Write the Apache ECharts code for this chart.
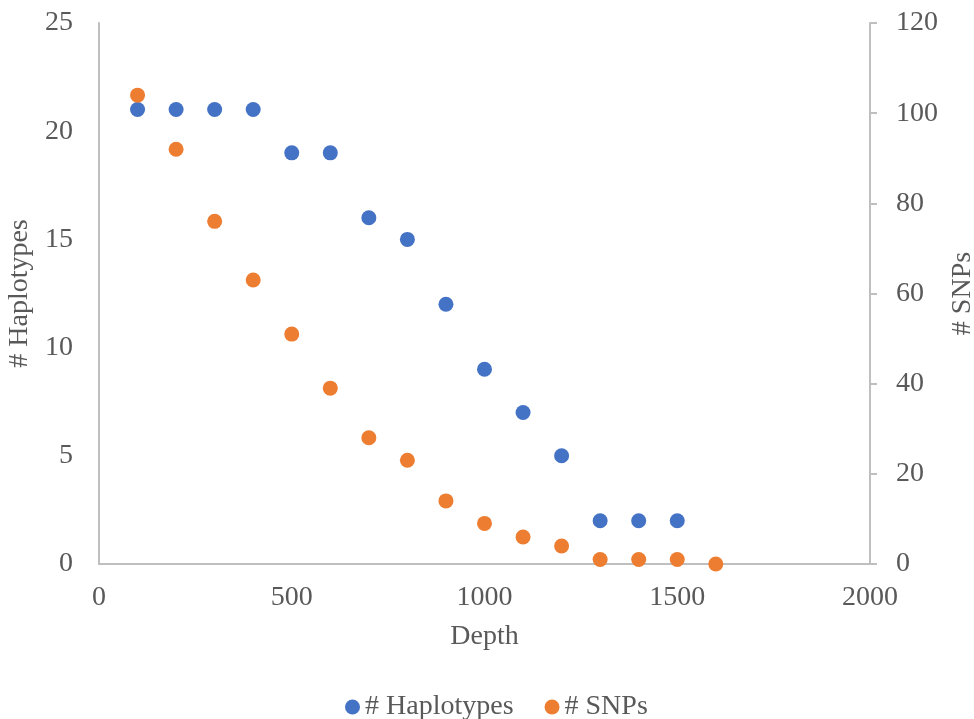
<!DOCTYPE html>
<html><head><meta charset="utf-8">
<script src="https://cdn.jsdelivr.net/npm/echarts@6/dist/echarts.min.js"></script>
<style>html,body{margin:0;padding:0;background:#fff;overflow:hidden}#c{width:974px;height:719px}</style>
</head><body><div id="c"></div>
<script>
const depth = [100,200,300,400,500,600,700,800,900,1000,1100,1200,1300,1400,1500,1600];
const haplotypes = [21,21,21,21,19,19,16,15,12,9,7,5,2,2,2,null];
const snps = [104,92,76,63,51,39,28,23,14,9,6,4,1,1,1,0];
const xTicks = [0,500,1000,1500,2000];
const leftTicks = [0,5,10,15,20,25];
const rightTicks = [0,20,40,60,80,100,120];

const font = 'Liberation Serif';
const gray = '#595959';
const lineGray = '#BFBFBF';
const fs = 28;
const chart = echarts.init(document.getElementById('c'));
chart.setOption({
  animation:false,
  grid:{left:99,right:104,top:23,bottom:155,containLabel:false,outerBoundsMode:'none'},
  legend:{top:688,left:340,itemWidth:15,itemHeight:15,itemGap:31,
    textStyle:{fontFamily:font,fontSize:fs,color:gray},
    data:[{name:'# Haplotypes',icon:'circle'},{name:'# SNPs',icon:'circle'}]},
  xAxis:{type:'value',min:xTicks[0],max:xTicks[xTicks.length-1],interval:500,
    name:'Depth',nameLocation:'middle',nameGap:59,
    nameTextStyle:{fontFamily:font,fontSize:fs,color:gray},
    axisLine:{show:true,lineStyle:{color:lineGray,width:2}},
    axisTick:{show:false},splitLine:{show:false},
    axisLabel:{fontFamily:font,fontSize:fs,color:gray,margin:20,formatter:v=>String(v)}},
  yAxis:[
    {type:'value',min:leftTicks[0],max:leftTicks[leftTicks.length-1],interval:5,position:'left',
     name:'# Haplotypes',nameLocation:'middle',nameGap:58,nameRotate:90,
     nameTextStyle:{fontFamily:font,fontSize:fs,color:gray},
     axisLine:{show:true,lineStyle:{color:lineGray,width:2}},
     axisTick:{show:false},splitLine:{show:false},
     axisLabel:{fontFamily:font,fontSize:fs,color:gray,margin:26,formatter:v=>String(v)}},
    {type:'value',min:rightTicks[0],max:rightTicks[rightTicks.length-1],interval:20,position:'right',
     name:'# SNPs',nameLocation:'middle',nameGap:78,nameRotate:90,
     nameTextStyle:{fontFamily:font,fontSize:fs,color:gray},
     axisLine:{show:true,lineStyle:{color:lineGray,width:2}},
     axisTick:{show:true,length:7,lineStyle:{color:lineGray,width:2}},splitLine:{show:false},
     axisLabel:{fontFamily:font,fontSize:fs,color:gray,margin:26,formatter:v=>String(v)}}
  ],
  series:[
    {name:'# Haplotypes',type:'scatter',yAxisIndex:0,symbolSize:15,
     itemStyle:{color:'#4472C4',opacity:1},
     data:depth.map((d,i)=>[d,haplotypes[i]]).filter(p=>p[1]!==null)},
    {name:'# SNPs',type:'scatter',yAxisIndex:1,symbolSize:15,
     itemStyle:{color:'#ED7D31',opacity:1},
     data:depth.map((d,i)=>[d,snps[i]])}
  ]
});
</script></body></html>
